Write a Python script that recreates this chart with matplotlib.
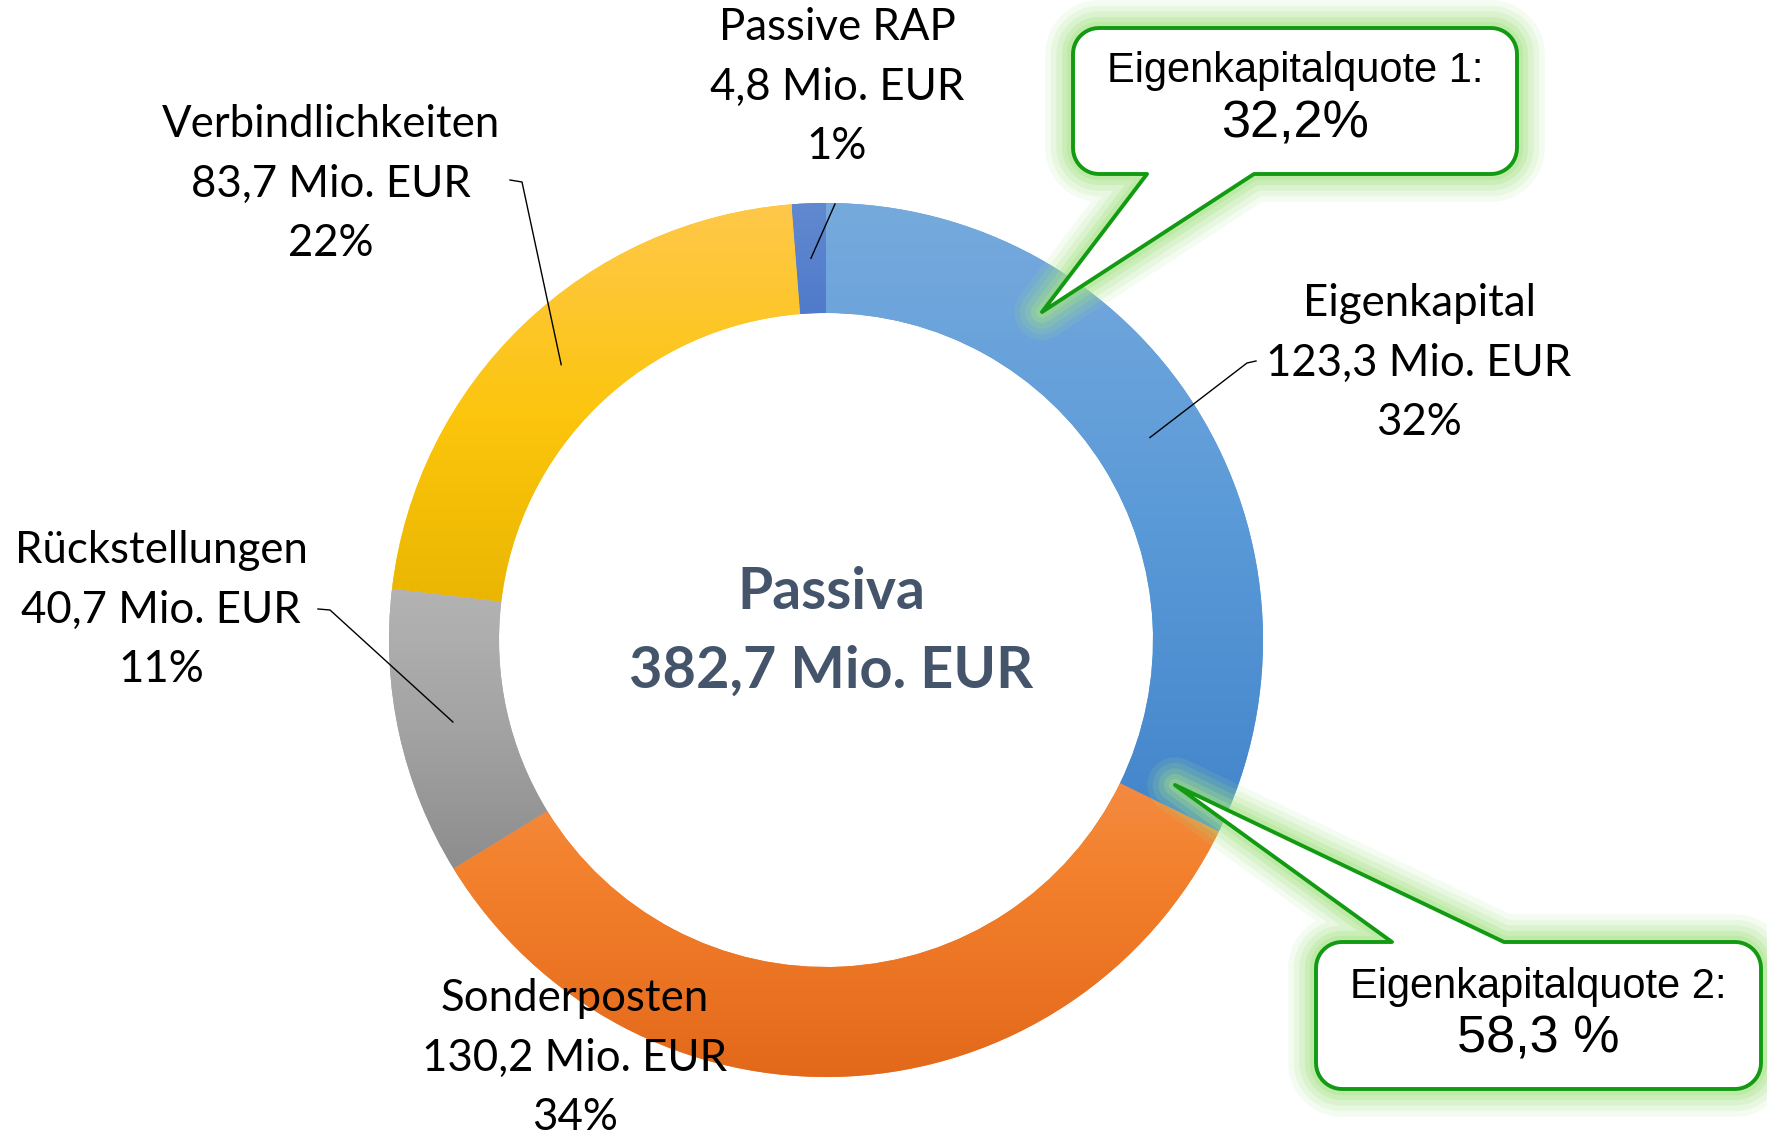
import numpy as np
import matplotlib
matplotlib.use("Agg")
import matplotlib.pyplot as plt
from matplotlib.colors import LinearSegmentedColormap
from matplotlib.patches import Polygon

# data
categories = ["Eigenkapital", "Sonderposten", "Rückstellungen", "Verbindlichkeiten", "Passive RAP"]
values = [123.3, 130.2, 40.7, 83.7, 4.8]
value_labels = ["123,3 Mio. EUR", "130,2 Mio. EUR", "40,7 Mio. EUR", "83,7 Mio. EUR", "4,8 Mio. EUR"]
pct_labels = ["32%", "34%", "11%", "22%", "1%"]
total_label = "382,7 Mio. EUR"
quote_titles = ["Eigenkapitalquote 1:", "Eigenkapitalquote 2:"]
quote_values = ["32,2%", "58,3 %"]

# gradient colours, top -> bottom
grads = [
    ["#76aadd", "#5b9ad8", "#4385cb"],
    ["#f29a66", "#f4822e", "#e3681a"],
    ["#b3b3b3", "#a3a3a3", "#8d8d8d"],
    ["#ffc84a", "#fcc50c", "#e7b300"],
    ["#6189d0", "#3f6dc5", "#2c5db8"],
]

W, H = 1767, 1138
cx, cy, R, ring = 826, 640, 437, 110

fig = plt.figure(figsize=(W / 100, H / 100), dpi=100)
ax = fig.add_axes([0, 0, 1, 1])

# y axis inverted -> counterclock=True draws clockwise on screen
wedges, _ = ax.pie(values, startangle=-90, counterclock=True, center=(cx, cy), radius=R,
                   wedgeprops=dict(width=ring, linewidth=0), frame=True)

grad = np.linspace(0, 1, 256).reshape(-1, 1)
for w, cols in zip(wedges, grads):
    cmap = LinearSegmentedColormap.from_list("g", cols)
    w.set_facecolor(cols[1])
    v = w.get_path().vertices
    im = ax.imshow(grad, cmap=cmap, extent=(v[:, 0].min(), v[:, 0].max(), v[:, 1].max(), v[:, 1].min()),
                   origin="upper", aspect="auto", interpolation="bilinear", zorder=2)
    im.set_clip_path(w)

ax.set_xlim(0, W)
ax.set_ylim(H, 0)
ax.set_aspect("equal")
ax.axis("off")

lab_font = dict(family="Lato", fontsize=31.5, color="black", ha="center", va="center", linespacing=1.55)
label_pos = [(1419, 363), (575, 1058), (161, 610), (331, 184), (837, 87)]
# leader line start (near label), None = no line
leader_start = [[(1256, 361), (1247, 363)], None, [(318, 609), (330, 610)],
                [(510, 180), (522, 182)], [(835, 204)]]

rmid = R - ring / 2
for i, w in enumerate(wedges):
    x, y = label_pos[i]
    ax.text(x, y, f"{categories[i]}\n{value_labels[i]}\n{pct_labels[i]}", zorder=6, **lab_font)
    if leader_start[i] is not None:
        th = np.deg2rad((w.theta1 + w.theta2) / 2)
        pts = leader_start[i] + [(cx + rmid * np.cos(th), cy + rmid * np.sin(th))]
        pts = np.array(pts)
        ax.plot(pts[:, 0], pts[:, 1], color="black", lw=1.0, zorder=5)

# centre text
ax.text(cx + 5, 592, "Passiva", family="Lato", weight="bold", fontsize=41, color="#44546a",
        ha="center", va="center", zorder=6)
ax.text(cx + 5, 671, total_label, family="Lato", weight="bold", fontsize=41.5, color="#44546a",
        ha="center", va="center", zorder=6)


def callout(x0, y0, x1, y1, r, ta, tb, tip, top_tail):
    def arc(ccx, ccy, a0, a1):
        a = np.deg2rad(np.linspace(a0, a1, 12))
        return list(zip(ccx + r * np.cos(a), ccy + r * np.sin(a)))
    pts = []
    pts += arc(x0 + r, y0 + r, 180, 270)
    if top_tail:
        pts += [(ta, y0), tip, (tb, y0)]
    pts += arc(x1 - r, y0 + r, 270, 360)
    pts += arc(x1 - r, y1 - r, 0, 90)
    if not top_tail:
        pts += [(tb, y1), tip, (ta, y1)]
    pts += arc(x0 + r, y1 - r, 90, 180)
    return pts


boxes = [
    dict(x0=1073, y0=28, x1=1517, y1=174, r=26, ta=1147, tb=1254, tip=(1042, 312), top_tail=False),
    dict(x0=1316, y0=942, x1=1761, y1=1089, r=26, ta=1392, tb=1504, tip=(1175, 785), top_tail=True),
]
text_y = [(71, 124), (987, 1039)]
for b, title, val, (ty1, ty2) in zip(boxes, quote_titles, quote_values, text_y):
    pts = callout(**b)
    for lw, a in [(40, 0.12), (32, 0.15), (24, 0.2), (16, 0.28), (9, 0.35)]:
        ax.add_patch(Polygon(pts, closed=True, fill=False, edgecolor="#a6e486", lw=lw, alpha=a,
                             joinstyle="round", zorder=7))
    ax.add_patch(Polygon(pts, closed=True, facecolor="white", edgecolor="#129a12", lw=2.8,
                         joinstyle="round", zorder=8))
    xm = (b["x0"] + b["x1"]) / 2
    ax.text(xm, ty1, title, family="Liberation Sans", fontsize=30, ha="center", va="center", zorder=9)
    ax.text(xm, ty2, val, family="Liberation Sans", fontsize=37.5, ha="center", va="center", zorder=9)

fig.savefig("out.png", dpi=100)
